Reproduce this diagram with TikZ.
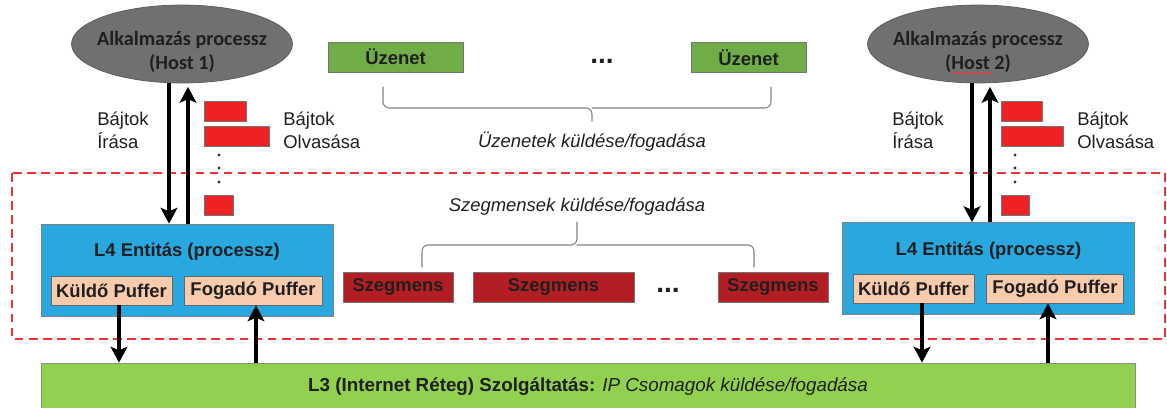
\documentclass[tikz,border=0pt]{standalone}
\usepackage{fontspec}
\setmainfont{Liberation Sans}
\newfontfamily\calibri{Carlito}
\usetikzlibrary{shapes.geometric,arrows.meta,decorations.pathmorphing}

\definecolor{hostgray}{RGB}{112,112,112}
\definecolor{msggreen}{RGB}{112,173,71}
\definecolor{netgreen}{RGB}{146,208,80}
\definecolor{entblue}{RGB}{41,168,224}
\definecolor{bufpeach}{RGB}{248,203,173}
\definecolor{segred}{RGB}{178,30,36}
\definecolor{bytered}{RGB}{237,34,36}
\definecolor{dashred}{RGB}{240,50,50}
\definecolor{bracegray}{RGB}{130,130,130}

\begin{document}
\begin{tikzpicture}[line cap=round,line join=round,x=0.02cm,y=-0.02cm,
		font=\fontsize{10.5}{13}\selectfont,text=black!88,
		host/.style={ellipse,draw=black!65,fill=hostgray,minimum width=4.42cm,minimum height=1.56cm,inner sep=0pt},
		hosttext/.style={font=\calibri\bfseries\fontsize{11.5}{13.6}\selectfont,align=center,inner sep=0pt},
		boldtext/.style={font=\bfseries\fontsize{10.5}{13}\selectfont},
		msgbox/.style={boldtext,draw=black!55,fill=msggreen,minimum height=0.6cm,inner sep=0pt},
		segbox/.style={boldtext,draw=black!55,fill=segred,minimum height=0.6cm,inner sep=0pt},
		entity/.style={draw=black!50,fill=entblue,minimum width=5.84cm,minimum height=1.84cm,inner sep=0pt},
		buffer/.style={boldtext,draw=black!60,fill=bufpeach,minimum height=0.58cm,inner sep=0pt},
		bytebox/.style={draw=black!55,fill=bytered,minimum height=0.4cm,inner sep=0pt,anchor=west},
		bytelabel/.style={align=left,anchor=west,inner sep=0pt},
		ellips/.style={font=\bfseries\fontsize{16}{16}\selectfont,inner sep=0pt},
		flow/.style={line width=2.3pt,line cap=butt,-{Stealth[length=9pt,width=9.5pt,inset=2pt]}},
		bracel/.style={draw=bracegray,line width=0.6pt,rounded corners=3.5pt},
		redframe/.style={draw=dashred,line width=0.8pt,dash pattern=on 5pt off 3pt,line cap=butt},
	]
	\useasboundingbox (0,0) rectangle (1167,407);
	
	% Szegmens frame
	\draw[redframe] (12,173) rectangle (1165,339);
	
	% Host processes
	\node[host] (h1) at (182,44) {};
	\node[hosttext] (h1t) at (182,52) {Alkalmazás processz\\(Host 1)};
	\node[host] (h2) at (978,44) {};
	\node[hosttext] (h2t) at (978,52) {Alkalmazás processz\\(Host 2)};
	\draw[red!80,line width=0.4pt,decorate,decoration={snake,amplitude=0.5pt,segment length=2.2pt}] (953,73) -- (993,73);
	
	% Messages
	\node[msgbox,minimum width=2.7cm] (m1) at (395.5,57) {Üzenet};
	\node[ellips] (mdots) at (602,61) {...};
	\node[msgbox,minimum width=2.3cm] (m2) at (748.5,57.5) {Üzenet};
	\draw[bracel] (383,87) |- (592,108) -- (592,121);
	\draw[bracel] (771,87) |- (592,108);
	\node[font=\itshape\fontsize{10.5}{13}\selectfont] (mtxt) at (592,142) {Üzenetek küldése/fogadása};
	
	% Segments
	\node[font=\itshape\fontsize{10.5}{13}\selectfont] (stxt) at (577,207) {Szegmensek küldése/fogadása};
	\draw[bracel] (422,267) |- (577,245) -- (577,222);
	\draw[bracel] (754,267) |- (577,245);
	\node[segbox,minimum width=2.2cm] (s1) at (398,287) {Szegmens};
	\node[segbox,minimum width=3.22cm] (s2) at (553.5,287) {Szegmens};
	\node[ellips] (sdots) at (668,290) {...};
	\node[segbox,minimum width=2.2cm] (s3) at (773,287) {Szegmens};
	
	% L4 entities
	\node[entity] (L4a) at (187,270) {};
	\node[boldtext] (L4at) at (187,252) {L4 Entitás (processz)};
	\node[buffer,minimum width=2.42cm] (senda) at (111.5,290.5) {Küldő Puffer};
	\node[buffer,minimum width=2.76cm] (recva) at (253,290.5) {Fogadó Puffer};
	\node[entity] (L4b) at (988.5,268.5) {};
	\node[boldtext] (L4bt) at (988.5,250.5) {L4 Entitás (processz)};
	\node[buffer,minimum width=2.42cm] (sendb) at (913.5,288.5) {Küldő Puffer};
	\node[buffer,minimum width=2.74cm] (recvb) at (1055,288.5) {Fogadó Puffer};
	
	% L3
	\node[draw=black!45,fill=netgreen,minimum width=21.88cm,minimum height=0.96cm,inner sep=0pt,
		font=\fontsize{10.7}{13}\selectfont] (L3) at (588,387)
		{\textbf{L3 (Internet Réteg) Szolgáltatás:} \textit{IP Csomagok küldése/fogadása}};
	
	% Bytes
	\node[bytebox,minimum width=0.84cm] (b1a) at (204,111) {};
	\node[bytebox,minimum width=1.3cm] (b1b) at (204,136.5) {};
	\node[bytebox,minimum width=0.58cm] (b1c) at (204,205.5) {};
	\node[bytebox,minimum width=0.82cm] (b2a) at (1001,111) {};
	\node[bytebox,minimum width=1.24cm] (b2b) at (1001,136.5) {};
	\node[bytebox,minimum width=0.56cm] (b2c) at (1001,205.5) {};
	\foreach \y in {155,168,182} {
		\fill[black!80] (219,\y) circle[radius=0.9pt];
		\fill[black!80] (1015,\y) circle[radius=0.9pt];
	}
	\node[bytelabel] (w1t) at (97,130) {Bájtok\\Írása};
	\node[bytelabel] (r1t) at (283,130) {Bájtok\\Olvasása};
	\node[bytelabel] (w2t) at (892,130) {Bájtok\\Írása};
	\node[bytelabel] (r2t) at (1077,130) {Bájtok\\Olvasása};
	
	% Arrows
	\coordinate (w1) at (169,0);
	\coordinate (r1) at (188,0);
	\coordinate (w2) at (972,0);
	\coordinate (r2) at (990,0);
	\coordinate (d1) at (119,0);
	\coordinate (u1) at (256,0);
	\coordinate (d2) at (922,0);
	\coordinate (u2) at (1048,0);
	\draw[flow] (h1.south -| w1) -- (L4a.north -| w1);
	\draw[flow,shorten >=2pt] (L4a.north -| r1) -- (h1.south -| r1);
	\draw[flow] (h2.south -| w2) -- (L4b.north -| w2);
	\draw[flow,shorten >=2pt] (L4b.north -| r2) -- (h2.south -| r2);
	\draw[flow] (senda.south -| d1) -- (L3.north -| d1);
	\draw[flow] (L3.north -| u1) -- (recva.south -| u1);
	\draw[flow] (sendb.south -| d2) -- (L3.north -| d2);
	\draw[flow] (L3.north -| u2) -- (recvb.south -| u2);
\end{tikzpicture}
\end{document}
